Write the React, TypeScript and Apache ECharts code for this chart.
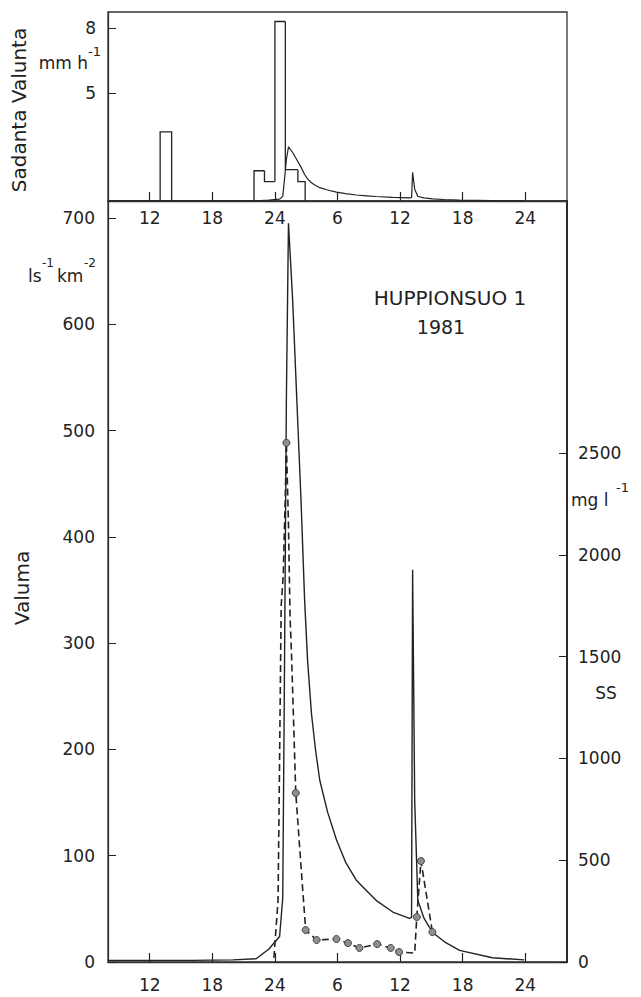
import React, { useEffect, useRef } from "react";
import * as echarts from "echarts";

// Hours counted from midnight of the first day; labels wrap at 24.
const hourTicks = [12, 18, 24, 30, 36, 42, 48];

// Rainfall intensity (mm h-1) as time intervals
const rainStart = [13.0, 22.0, 23.0, 24.0, 25.0, 26.2];
const rainEnd = [14.1, 23.0, 24.0, 25.0, 26.2, 26.9];
const rainValue = [3.2, 1.4, 0.9, 8.3, 1.45, 0.9];

// Runoff (l s-1 km-2)
const qTime = [
  8, 16, 20, 22.2, 23.4, 24.45, 24.75, 24.9, 25.1, 25.3, 25.7, 26.1, 26.5,
  26.85, 27.13, 27.5, 27.9, 28.3, 29.05, 29.9, 30.77, 31.8, 32.79, 33.7, 35.3,
  36.9, 37.1, 37.2, 37.4, 37.7, 38.3, 39.1, 40.25, 41.7, 44.85, 47.9,
];
const qValue = [
  1.5, 1.5, 2, 3, 12, 24, 60, 250, 530, 695, 623, 529, 435, 340, 284, 234, 199,
  171, 141, 115, 94, 77, 67, 58, 47, 41, 42, 369, 152, 58, 41, 28, 19, 11, 4, 2,
];

// Suspended solids (mg l-1); 1 = sampled point
const ssTime = [
  23.9, 24.3, 24.45, 24.6, 24.8, 25.0, 25.1, 25.3, 25.45, 25.6, 26.0, 26.6,
  26.95, 28.0, 29.9, 31.0, 32.1, 33.8, 35.1, 35.9, 37.4, 37.6, 38.0, 39.1,
];
const ssValue = [
  20, 300, 1000, 1750, 1900, 2300, 2550, 2150, 1700, 1500, 830, 400, 157, 108,
  113, 93, 69, 88, 69, 49, 44, 221, 496, 147,
];
const ssSampled = [
  0, 0, 0, 0, 0, 0, 1, 0, 0, 0, 1, 0, 1, 1, 1, 1, 1, 1, 1, 1, 0, 1, 1, 1,
];

const rainTicks = [5, 8];
const runoffTicks = [0, 100, 200, 300, 400, 500, 600, 700];
const ssTicks = [0, 500, 1000, 1500, 2000, 2500];

// 1 l s-1 km-2 equals 0.0036 mm h-1
const MM_PER_H = 0.0036;

const FONT = "DejaVu Sans";
const INK = "#222";

const hourLabel = (v: number) => String(((Math.round(v) - 1) % 24) + 1);
const plain = (v: number) => String(v);

function timeAxis(gridIndex: number, labelMargin: number) {
  return {
    type: "value",
    gridIndex,
    min: 8,
    max: 52,
    axisLine: { show: true, lineStyle: { color: "#333", width: 1.4 } },
    axisTick: {
      show: true,
      inside: true,
      length: 9,
      customValues: hourTicks,
      lineStyle: { color: INK, width: 1.2 },
    },
    axisLabel: {
      customValues: hourTicks,
      formatter: hourLabel,
      margin: labelMargin,
      fontFamily: FONT,
      fontSize: 17,
      color: INK,
    },
    splitLine: { show: false },
  };
}

function valueAxis(
  gridIndex: number,
  max: number,
  ticks: number[],
  margin: number,
  right = false
) {
  return {
    type: "value",
    gridIndex,
    position: right ? "right" : "left",
    min: 0,
    max,
    axisLine: {
      show: true,
      lineStyle: { color: right ? "#222" : "#333", width: right ? 1.8 : 1.3 },
    },
    axisTick: {
      show: true,
      inside: true,
      length: 8,
      customValues: ticks,
      lineStyle: { color: INK },
    },
    axisLabel: {
      customValues: ticks,
      formatter: plain,
      margin,
      fontFamily: FONT,
      fontSize: 17,
      color: INK,
    },
    splitLine: { show: false },
  };
}

export default function App() {
  const ref = useRef<HTMLDivElement>(null);

  useEffect(() => {
    if (!ref.current) return;
    const chart = echarts.init(ref.current, null, { renderer: "svg" });

    const rainData = rainStart.map((s, i) => {
      const leftBase = i > 0 && rainEnd[i - 1] === s ? rainValue[i - 1] : 0;
      const closes =
        i === rainStart.length - 1 || rainStart[i + 1] !== rainEnd[i] ? 1 : 0;
      return [s, rainEnd[i], rainValue[i], leftBase, closes];
    });

    const text = (
      t: string,
      x: number,
      y: number,
      size: number,
      extra: Record<string, unknown> = {},
      align = "center"
    ) => ({
      type: "text",
      x,
      y,
      ...extra,
      style: {
        text: t,
        fontFamily: FONT,
        fontSize: size,
        fill: INK,
        align,
        verticalAlign: "middle",
      },
    });

    chart.setOption({
      animation: false,
      backgroundColor: "#fff",
      grid: [
        {
          left: 108,
          right: 74,
          top: 12,
          height: 189,
          show: true,
          borderColor: "#333",
          borderWidth: 1.3,
        },
        {
          left: 108,
          right: 74,
          top: 201,
          bottom: 35,
          show: true,
          borderColor: "#333",
          borderWidth: 1.3,
        },
      ],
      xAxis: [timeAxis(0, 8), timeAxis(1, 14)],
      yAxis: [
        valueAxis(0, 8.74, rainTicks, 12),
        valueAxis(1, 716, runoffTicks, 13),
        valueAxis(1, 3738, ssTicks, 11, true),
      ],
      series: [
        {
          name: "Sadanta",
          type: "custom",
          xAxisIndex: 0,
          yAxisIndex: 0,
          encode: { x: [0, 1], y: 2 },
          data: rainData,
          renderItem: (_params: unknown, api: any) => {
            const s = api.value(0);
            const e = api.value(1);
            const v = api.value(2);
            const base = api.value(3);
            const closes = api.value(4);
            const pts = [
              api.coord([s, base]),
              api.coord([s, v]),
              api.coord([e, v]),
            ];
            if (closes) pts.push(api.coord([e, 0]));
            return {
              type: "polyline",
              shape: { points: pts },
              style: { stroke: INK, lineWidth: 1.3, fill: null },
            };
          },
        },
        {
          name: "Valunta",
          type: "line",
          xAxisIndex: 0,
          yAxisIndex: 0,
          symbol: "none",
          data: qTime.map((t, i) => [t, qValue[i] * MM_PER_H]),
          lineStyle: { color: INK, width: 1.2 },
        },
        {
          name: "Valuma",
          type: "line",
          xAxisIndex: 1,
          yAxisIndex: 1,
          symbol: "none",
          data: qTime.map((t, i) => [t, qValue[i]]),
          lineStyle: { color: INK, width: 1.4 },
        },
        {
          name: "SS",
          type: "line",
          xAxisIndex: 1,
          yAxisIndex: 2,
          showAllSymbol: true,
          symbolSize: 7,
          data: ssTime.map((t, i) => ({
            value: [t, ssValue[i]],
            symbol: ssSampled[i] ? "circle" : "none",
          })),
          lineStyle: { color: INK, width: 1.6, type: [7, 4] },
          itemStyle: { color: "#8f8f8f", borderColor: "#444", borderWidth: 1 },
        },
      ],
      graphic: [
        text("Sadanta Valunta", 19, 110, 20, { rotation: Math.PI / 2 }),
        text("mm h", 88, 63, 17, {}, "right"),
        text("-1", 88, 51, 13, {}, "left"),
        text("ls", 28, 276, 17, {}, "left"),
        text("-1", 42, 263, 12, {}, "left"),
        text("km", 57, 276, 17, {}, "left"),
        text("-2", 84, 263, 12, {}, "left"),
        text("HUPPIONSUO 1", 450, 298, 20),
        text("1981", 441, 327, 19),
        text("Valuma", 22, 588, 20, { rotation: Math.PI / 2 }),
        text("mg l", 571, 500, 17, {}, "left"),
        text("-1", 616, 487, 13, {}, "left"),
        text("SS", 606, 693, 17),
      ],
    });

    return () => chart.dispose();
  }, []);

  return (
    <div
      ref={ref}
      style={{ position: "fixed", left: 0, top: 0, width: 641, height: 997 }}
    />
  );
}
